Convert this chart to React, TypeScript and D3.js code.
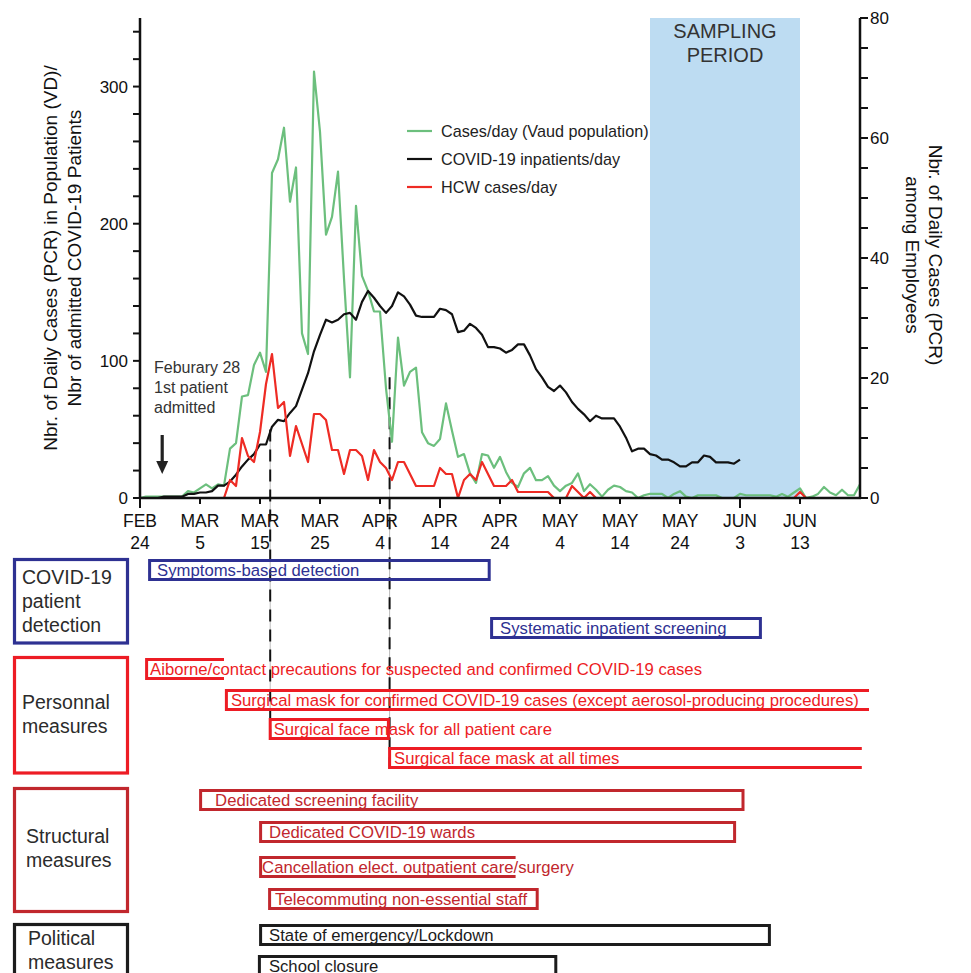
import * as d3 from "d3";

// days since Feb 24, 2020
const TICK_DAYS = [0, 10, 20, 30, 40, 50, 60, 70, 80, 90, 100, 110];
const TICK_MONTHS = ["FEB", "MAR", "MAR", "MAR", "APR", "APR", "APR", "MAY", "MAY", "MAY", "JUN", "JUN"];
const TICK_DATES = ["24", "5", "15", "25", "4", "14", "24", "4", "14", "24", "3", "13"];

const LEFT_LABELS = [0, 100, 200, 300];
const RIGHT_LABELS = [0, 20, 40, 60, 80];

// Cases/day (Vaud population), left axis
const VAUD_CASES = [
  0, 1, 1, 1, 1, 1, 1, 1,
  5, 4, 7, 10, 7, 10, 9,
  36, 40, 74, 75, 97, 106, 92,
  237, 247, 270, 216, 241, 120, 105,
  311, 267, 192, 205, 238, 160, 88,
  213, 162, 151, 136, 136, 80, 41,
  117, 82, 92, 95, 48, 40, 38,
  43, 69, 49, 30, 32, 18, 11,
  32, 31, 22, 30, 19, 11, 8,
  18, 22, 13, 13, 16, 9, 5,
  9, 11, 18, 5, 10, 6, 1,
  6, 9, 8, 5, 4, 0, 2,
  3, 3, 3, 0, 3, 5, 1,
  0, 2, 2, 2, 2, 0, 0,
  0, 3, 2, 2, 2, 2, 2,
  1, 3, 1, 4, 7, 0, 1,
  3, 8, 4, 2, 6, 2, 2,
  10,
];

// COVID-19 inpatients/day, left axis
const INPATIENTS = [
  0, 0, 0, 0, 1, 1, 1, 1,
  3, 3, 4, 4, 5, 9, 9,
  12, 17, 23, 28, 32, 39, 39,
  52, 57, 56, 62, 67, 79, 91,
  107, 119, 130, 128, 130, 134, 135,
  130, 143, 151, 146, 140, 135, 140,
  150, 147, 141, 133, 132, 132, 132,
  138, 137, 134, 121, 122, 127, 124,
  119, 110, 110, 109, 106, 108, 112,
  112, 104, 94, 88, 81, 78, 82,
  77, 70, 65, 61, 56, 60, 58,
  58, 58, 52, 44, 34, 36, 36,
  32, 31, 28, 28, 26, 23, 23,
  26, 26, 31, 30, 26, 26, 26,
  25, 28,
];

// HCW cases/day, right axis
const HCW_CASES = [
  0, 0, 0, 0, 0, 0, 0, 0, 0, 0, 0, 0, 0, 0, 0,
  3, 2, 10, 7, 6, 11, 19,
  24, 15, 16, 7, 12, 9, 6,
  14, 14, 13, 8, 8, 4, 8,
  8, 7, 3, 8, 6, 5, 3,
  6, 6, 4, 2, 2, 2, 2,
  5, 4, 4, 0, 3, 4, 3,
  6, 4, 2, 2, 2, 3, 1,
  1, 1, 1, 1, 1, 0, 0,
  0, 2, 1, 0, 1, 0, 0,
  0, 0, 0, 0, 0, 0, 0, 0, 0, 0, 0, 0, 0, 0, 0, 0,
  0, 0, 0, 0, 0, 0, 0, 0, 0, 0, 0, 0, 0, 0, 0, 0,
  1,
  0, 0, 0, 0, 0, 0, 0, 0, 0, 0,
];

const SAMPLING = [85, 110];
const FIRST_PATIENT_DAY = 3.7;

// dashed event lines: day, top value (left axis), row where it stops
const EVENT_DAYS = [21.7, 41.6];
const EVENT_TOPS = [50, 88];
const EVENT_END_ROW = [4, 5];

const GROUPS = ["detection", "personnal", "structural", "political"];
const GROUP_LINES = [["COVID-19", "patient", "detection"], ["Personnal", "measures"], ["Structural", "measures"], ["Political", "measures"]];

const MEASURES = [
  { label: "Symptoms-based detection", start: 1.6, end: 58.2, group: "detection", open: false },
  { label: "Systematic inpatient screening", start: 58.6, end: 103.4, group: "detection", open: false },
  { label: "Aiborne/contact precautions for suspected and confirmed COVID-19 cases", start: 1.1, end: 14.0, group: "personnal", open: true },
  { label: "Surgical mask for confirmed COVID-19 cases (except aerosol-producing procedures)", start: 14.4, end: 121.5, group: "personnal", open: true },
  { label: "Surgical face mask for all patient care", start: 21.7, end: 41.4, group: "personnal", open: false },
  { label: "Surgical face mask at all times", start: 41.6, end: 120.3, group: "personnal", open: true },
  { label: "Dedicated screening facility", start: 10.1, end: 100.5, group: "structural", open: false },
  { label: "Dedicated COVID-19 wards", start: 20.1, end: 99.1, group: "structural", open: false },
  { label: "Cancellation elect. outpatient care/surgery", start: 20.1, end: 62.6, group: "structural", open: true },
  { label: "Telecommuting non-essential staff", start: 21.6, end: 66.2, group: "structural", open: false },
  { label: "State of emergency/Lockdown", start: 20.1, end: 104.9, group: "political", open: false },
  { label: "School closure", start: 19.9, end: 69.3, group: "political", open: false },
];

// layout
const ROW_TOP = [559, 617, 658, 689, 718, 747, 789, 821, 856, 888, 924, 955];
const ROW_PAD = [9, 10, 5, 6, 5, 6, 16, 10, 3, 7, 10, 11];
const CAT_TOP = [559.5, 657.5, 788.5, 924.5];
const CAT_BOTTOM = [643, 773, 911.5, 990];
const CAT_TEXT_X = [22, 22, 26, 28];
const CAT_BASELINES = [[584, 608, 632], [709, 733], [843, 867], [945, 969]];

const COLORS: Record<string, string> = {
  detection: "#2e3192",
  personnal: "#ed1c24",
  structural: "#c1272d",
  political: "#1c1c1c",
};
const GREEN = "#6cbf7d";
const RED = "#ee2b24";
const FONT = "Arial, 'Liberation Sans', Helvetica, sans-serif";

export default function App() {
  const W = 971;
  const H = 973;
  const left = 140, right = 860, top = 18, bottom = 498;

  const x = d3.scaleLinear().domain([0, 120]).range([left, right]);
  const yL = d3.scaleLinear().domain([0, 350]).range([bottom, top]);
  const yR = d3.scaleLinear().domain([0, 80]).range([bottom, top]);

  const lineL = d3.line<number>().x((_, i) => x(i)).y((d) => yL(d));
  const lineR = d3.line<number>().x((_, i) => x(i)).y((d) => yR(d));

  const rowH = 19;

  return (
    <svg width={W} height={H} style={{ position: "absolute", left: 0, top: 0, display: "block" }} fontFamily={FONT}>
      <rect width={W} height={H} fill="#fff" />

      {/* sampling period */}
      <rect x={x(SAMPLING[0])} y={top} width={x(SAMPLING[1]) - x(SAMPLING[0])} height={bottom - top} fill="#bddcf2" />
      <text x={(x(SAMPLING[0]) + x(SAMPLING[1])) / 2} y={38} textAnchor="middle" fontSize={20} fill="#333">SAMPLING</text>
      <text x={(x(SAMPLING[0]) + x(SAMPLING[1])) / 2} y={62} textAnchor="middle" fontSize={20} fill="#333">PERIOD</text>

      {/* dashed event lines */}
      {EVENT_DAYS.map((d, i) => {
        const y2 = ROW_TOP[EVENT_END_ROW[i]] + rowH + 3;
        return (
          <g key={"ev" + i}>
            <line x1={x(d)} x2={x(d)} y1={yL(EVENT_TOPS[i])} y2={y2} stroke="#bbb" strokeWidth={1} />
            <line x1={x(d)} x2={x(d)} y1={yL(EVENT_TOPS[i])} y2={y2} stroke="#111" strokeWidth={2} strokeDasharray="12 8" />
          </g>
        );
      })}

      {/* series */}
      <path d={lineL(VAUD_CASES) || ""} fill="none" stroke={GREEN} strokeWidth={2.2} strokeLinejoin="round" />
      <path d={lineL(INPATIENTS) || ""} fill="none" stroke="#111" strokeWidth={2.2} strokeLinejoin="round" />
      <path d={lineR(HCW_CASES) || ""} fill="none" stroke={RED} strokeWidth={2.2} strokeLinejoin="round" />

      {/* axes */}
      <line x1={left} x2={left} y1={top} y2={bottom + 1} stroke="#111" strokeWidth={2.5} />
      <line x1={right} x2={right} y1={top} y2={bottom + 1} stroke="#111" strokeWidth={2.5} />
      <line x1={left - 1} x2={right + 1} y1={bottom} y2={bottom} stroke="#111" strokeWidth={2.5} />

      {d3.range(0, 341, 20).map((v) => (
        <line key={"lt" + v} x1={left - 7} x2={left} y1={yL(v)} y2={yL(v)} stroke="#111" strokeWidth={2} />
      ))}
      {LEFT_LABELS.map((v) => (
        <text key={"ll" + v} x={left - 12} y={yL(v)} dy="0.35em" textAnchor="end" fontSize={17} fill="#111">{v}</text>
      ))}
      {d3.range(0, 81, 5).map((v) => (
        <line key={"rt" + v} x1={right} x2={right + 8} y1={yR(v)} y2={yR(v)} stroke="#111" strokeWidth={2} />
      ))}
      {RIGHT_LABELS.map((v) => (
        <text key={"rl" + v} x={right + 10} y={yR(v)} dy="0.35em" textAnchor="start" fontSize={17} fill="#111">{v}</text>
      ))}
      {TICK_DAYS.map((d, i) => (
        <g key={"xt" + d}>
          <line x1={x(d)} x2={x(d)} y1={bottom} y2={bottom + (d % 50 === 0 ? 10 : 6)} stroke="#111" strokeWidth={2} />
          <text x={x(d)} y={527} textAnchor="middle" fontSize={17.5} fill="#111">{TICK_MONTHS[i]}</text>
          <text x={x(d)} y={549} textAnchor="middle" fontSize={17.5} fill="#111">{TICK_DATES[i]}</text>
        </g>
      ))}

      {/* axis titles */}
      <g transform="translate(57,258) rotate(-90)">
        <text textAnchor="middle" fontSize={19} fill="#111">Nbr. of Daily Cases (PCR) in Population (VD)/</text>
        <text y={24} textAnchor="middle" fontSize={19} fill="#111">Nbr of admitted COVID-19 Patients</text>
      </g>
      <g transform="translate(929,255) rotate(90)">
        <text textAnchor="middle" fontSize={19} fill="#111">Nbr. of Daily Cases (PCR)</text>
        <text y={23} textAnchor="middle" fontSize={19} fill="#111">among Employees</text>
      </g>

      {/* legend */}
      {[
        { label: "Cases/day (Vaud population)", color: GREEN },
        { label: "COVID-19 inpatients/day", color: "#111" },
        { label: "HCW cases/day", color: RED },
      ].map((l, i) => (
        <g key={"lg" + i} transform={`translate(0,${131 + i * 28})`}>
          <line x1={407} x2={432} stroke={l.color} strokeWidth={2.2} />
          <text x={441} dy="0.35em" fontSize={16.2} fill="#222">{l.label}</text>
        </g>
      ))}

      {/* first patient annotation */}
      <text x={154} y={373} fontSize={16} fill="#333">Feburary 28</text>
      <text x={154} y={393} fontSize={16} fill="#333">1st patient</text>
      <text x={154} y={413} fontSize={16} fill="#333">admitted</text>
      <line x1={x(FIRST_PATIENT_DAY)} x2={x(FIRST_PATIENT_DAY)} y1={435} y2={464} stroke="#222" strokeWidth={3.2} />
      <path
        d={`M${x(FIRST_PATIENT_DAY) - 6},461 L${x(FIRST_PATIENT_DAY) + 6},461 L${x(FIRST_PATIENT_DAY)},474 Z`}
        fill="#222"
      />

      {/* category boxes */}
      {GROUPS.map((g, i) => (
        <g key={"cat" + g}>
          <rect x={14.5} y={CAT_TOP[i]} width={113} height={CAT_BOTTOM[i] - CAT_TOP[i]} fill="none" stroke={COLORS[g]} strokeWidth={3.2} />
          {GROUP_LINES[i].map((t, j) => (
            <text key={t} x={CAT_TEXT_X[i]} y={CAT_BASELINES[i][j]} fontSize={19.5} fill="#2b2b2b">{t}</text>
          ))}
        </g>
      ))}

      {/* measure bars */}
      {MEASURES.map((m, i) => {
        const x0 = x(m.start);
        const x1 = x(m.end);
        const y0 = ROW_TOP[i] + 1.5;
        const y1 = y0 + rowH;
        const c = COLORS[m.group];
        const d = m.open
          ? `M${x1},${y0} L${x0},${y0} L${x0},${y1} L${x1},${y1}`
          : `M${x0},${y0} L${x1},${y0} L${x1},${y1} L${x0},${y1} Z`;
        return (
          <g key={"m" + i}>
            <path d={d} fill="none" stroke={c} strokeWidth={3} />
            <text x={x0 - 1.5 + ROW_PAD[i]} y={ROW_TOP[i] + 16.5} fontSize={16.7} fill={c}>{m.label}</text>
          </g>
        );
      })}
    </svg>
  );
}
